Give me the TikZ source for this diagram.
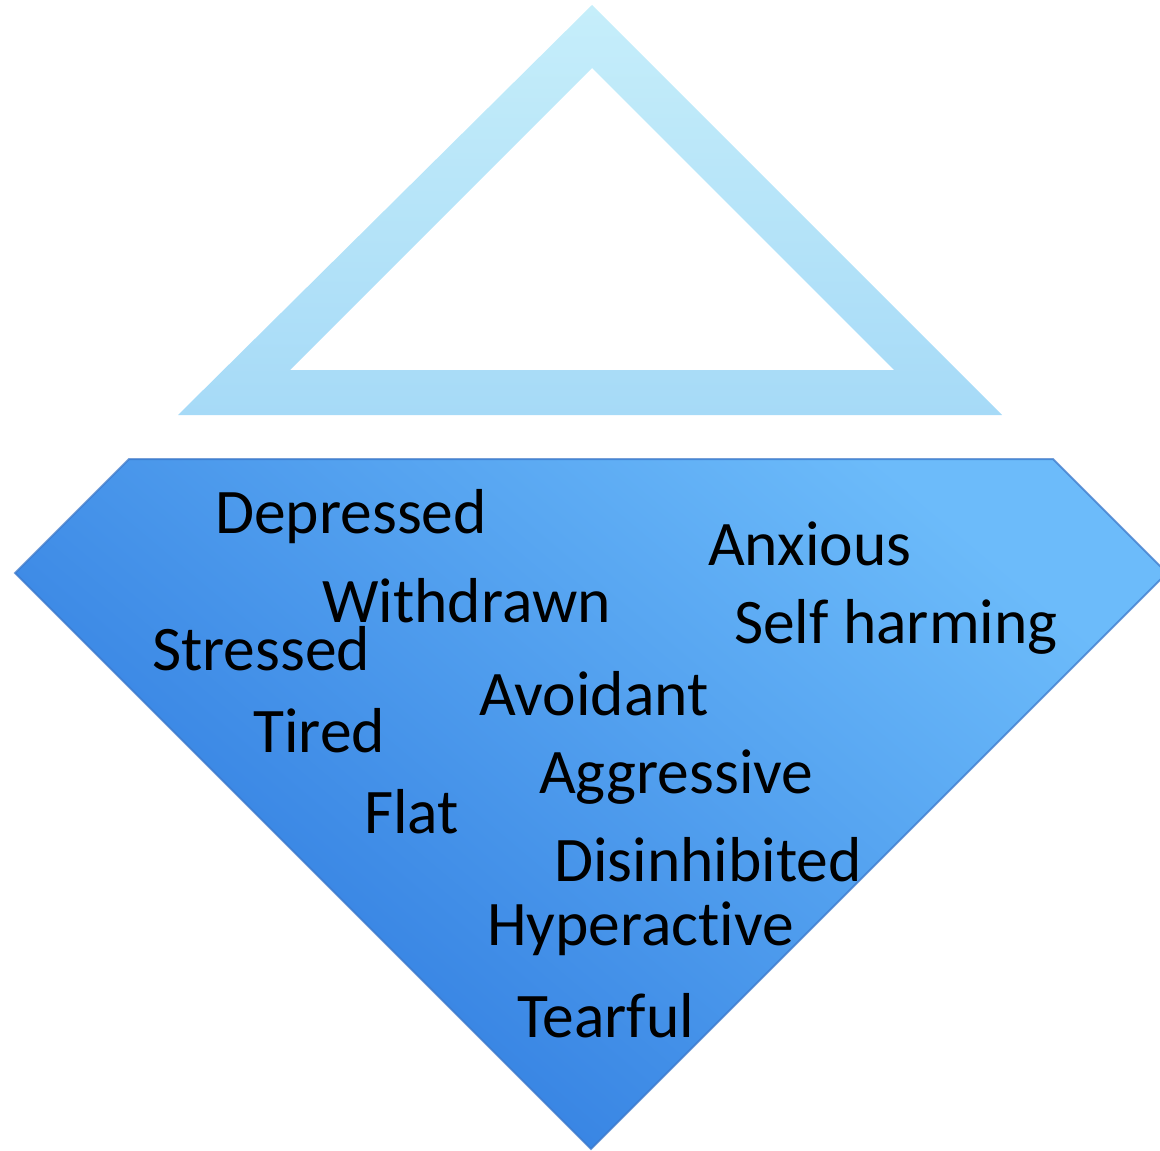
\documentclass[tikz,border=0pt]{standalone}
\usepackage{fontspec}
\setmainfont[Ligatures={NoCommon}]{Carlito}
\definecolor{topLight}{HTML}{C6EEFA}
\definecolor{topDark}{HTML}{A6DAF7}
\definecolor{lowLight}{HTML}{6CBBFA}
\definecolor{lowDark}{HTML}{2C78DE}
\definecolor{lowEdge}{HTML}{3A76C8}
\tikzset{
  word/.style={anchor=base west, inner sep=0pt, font=\fontsize{63.5}{70}\selectfont, text=black},
}
\begin{document}
\begin{tikzpicture}[x=1pt,y=-1pt]
\useasboundingbox (0,0) rectangle (1160,1151);
% top triangle outline
\shade[top color=topLight, bottom color=topDark, even odd rule]
  (592,5) -- (1002,415) -- (178,415) -- cycle
  (592,68) -- (290,370) -- (894,370) -- cycle;
% lower shape
\begin{scope}
\clip (0,0) rectangle (1160,1151);
\shade[top color=lowLight, bottom color=lowDark, shading angle=-40]
  (129,459) -- (1053,459) -- (1167,573) -- (591,1149) -- (15,573) -- cycle;
\draw[lowEdge, line width=2pt, opacity=0.7, line join=miter]
  (129,459) -- (1053,459) -- (1167,573) -- (591,1149) -- (15,573) -- cycle;
\end{scope}
% words
\node[word] (depressed) at (215,533) {Depressed};
\node[word] (anxious) at (708,565) {Anxious};
\node[word] (withdrawn) at (322,622) {Withdrawn};
\node[word] (selfharming) at (734,643) {Self harming};
\node[word] (stressed) at (152,670) {Stressed};
\node[word] (avoidant) at (479,715) {Avoidant};
\node[word] (tired) at (253,752) {Tired};
\node[word] (aggressive) at (539,793) {Aggressive};
\node[word] (flat) at (364,833) {Flat};
\node[word] (disinhibited) at (554,881) {Disinhibited};
\node[word] (hyperactive) at (487,945) {Hyperactive};
\node[word] (tearful) at (517,1037) {Tearful};
\end{tikzpicture}
\end{document}
